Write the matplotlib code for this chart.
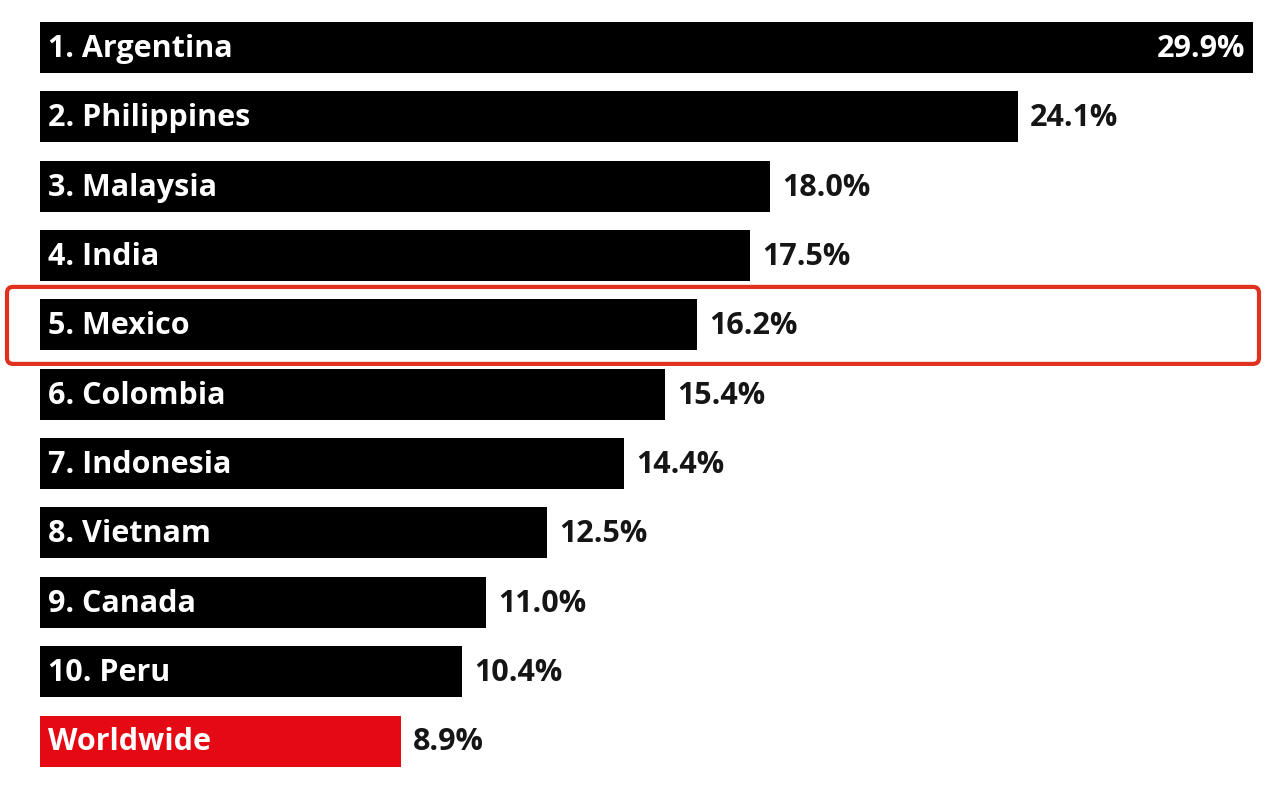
import matplotlib
matplotlib.use("Agg")
import matplotlib.pyplot as plt
from matplotlib.patches import FancyBboxPatch

labels = ["1. Argentina", "2. Philippines", "3. Malaysia", "4. India", "5. Mexico",
          "6. Colombia", "7. Indonesia", "8. Vietnam", "9. Canada", "10. Peru", "Worldwide"]
values = [29.9, 24.1, 18.0, 17.5, 16.2, 15.4, 14.4, 12.5, 11.0, 10.4, 8.9]
value_labels = ["29.9%", "24.1%", "18.0%", "17.5%", "16.2%", "15.4%", "14.4%",
                "12.5%", "11.0%", "10.4%", "8.9%"]
highlight = "5. Mexico"

W, H = 1280, 785
fig = plt.figure(figsize=(W / 100, H / 100), dpi=100)
fig.patch.set_facecolor("white")

px_per_unit = (1253 - 40) / 29.9
pitch = (741 - 47.5) / 10
ax = fig.add_axes([40 / W, 0, 1 - 40 / W, 1])
ax.set_xlim(0, (W - 40) / px_per_unit)
ax.set_ylim(10 + (H - 741) / pitch, -47.5 / pitch)
ax.axis("off")

font = dict(family=["Open Sans", "DejaVu Sans"], fontweight="bold", fontsize=22)
ys = list(range(len(labels)))
colors = ["#e50914" if l == "Worldwide" else "black" for l in labels]
ax.barh(ys, values, height=51 / pitch, color=colors, align="center")

pad = 8 / px_per_unit
for y, lab, v, vl in zip(ys, labels, values, value_labels):
    ax.text(pad, y + 0.02, lab, color="white", ha="left", va="center", **font)
    if v == max(values):
        ax.text(v - pad, y + 0.02, vl, color="white", ha="right", va="center", **font)
    else:
        ax.text(v + 12 / px_per_unit, y + 0.02, vl, color="#151515", ha="left", va="center", **font)

# red highlight box around the Mexico row
yi = labels.index(highlight)
cy = 47.5 + yi * pitch  # pixel center from top
x0, x1 = 7, 1259
y_top, y_bot = cy - 38, cy + 39
box = FancyBboxPatch((x0 / 100, (H - y_bot) / 100), (x1 - x0) / 100, (y_bot - y_top) / 100,
                     boxstyle="round,pad=0,rounding_size=0.06", transform=fig.dpi_scale_trans,
                     fill=False, edgecolor="#e0301e", linewidth=3.0)
fig.patches.append(box)

fig.savefig("out.png", dpi=100, facecolor="white")
